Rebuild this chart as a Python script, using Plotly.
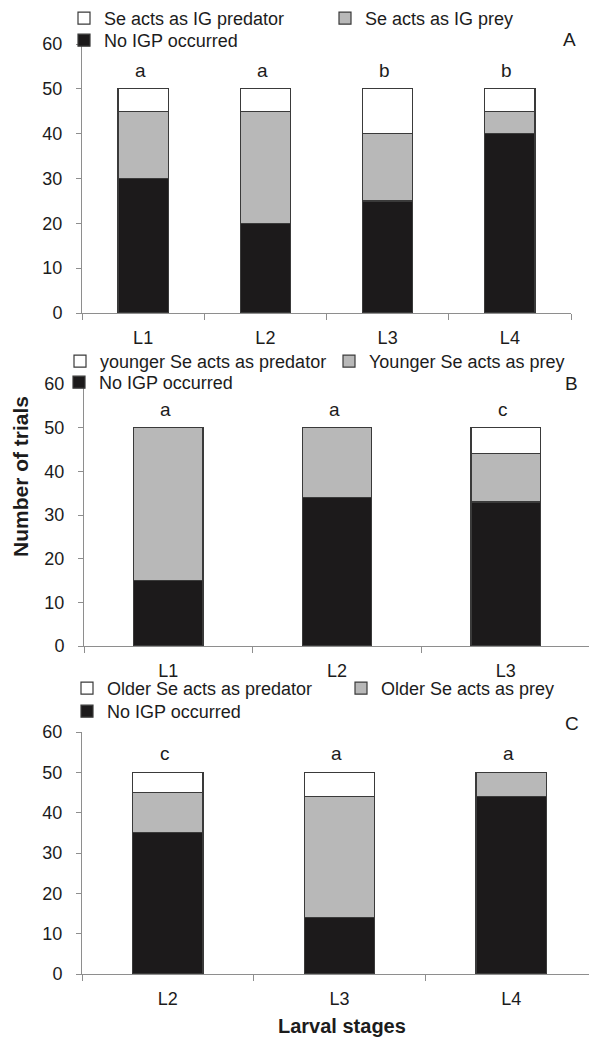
import plotly.graph_objects as go

# ---------------- data ----------------
stages_a = ["L1", "L2", "L3", "L4"]
no_igp_a = [30, 20, 25, 40]
prey_a = [15, 25, 15, 5]
pred_a = [5, 5, 10, 5]
letters_a = ["a", "a", "b", "b"]

stages_b = ["L1", "L2", "L3"]
no_igp_b = [15, 34, 33]
prey_b = [35, 16, 11]
pred_b = [0, 0, 6]
letters_b = ["a", "a", "c"]

stages_c = ["L2", "L3", "L4"]
no_igp_c = [35, 14, 44]
prey_c = [10, 30, 6]
pred_c = [5, 6, 0]
letters_c = ["c", "a", "a"]

names_pred = ["Se acts as IG predator", "younger Se acts as predator", "Older Se acts as predator"]
names_prey = ["Se acts as IG prey", "Younger Se acts as prey", "Older Se acts as prey"]
name_none = "No IGP occurred"
panel_labels = ["A", "B", "C"]
y_ticks = [0, 10, 20, 30, 40, 50, 60]

# ---------------- style ----------------
FONT = "Liberation Sans, Arial, sans-serif"
TXT = "#1c1c1c"
BLACK = "#1c1a1b"
GRAY = "#b8b8b8"
WHITE = "#ffffff"
EDGE = "#3a3a3a"
AXIS = "#8e8e8e"
PAGE_OFF = 8            # page body margin
W, H = 597 - PAGE_OFF, 1038 - PAGE_OFF

def px(x):
    return (x - PAGE_OFF) / W

def py(y):
    return 1 - (y - PAGE_OFF) / H

panels = [
    dict(cats=stages_a, none=no_igp_a, prey=prey_a, pred=pred_a, letters=letters_a,
         xdom=[px(82), px(571)], ydom=[py(313), py(44)],
         leg_x=px(64), leg_x2=px(64), leg_y1=py(0), leg_y2=py(22), ew=216,
         lab=(px(569), py(40))),
    dict(cats=stages_b, none=no_igp_b, prey=prey_b, pred=pred_b, letters=letters_b,
         xdom=[px(84), px(590)], ydom=[py(646), py(384)],
         leg_x=px(60), leg_x2=px(59), leg_y1=py(343), leg_y2=py(364), ew=224,
         lab=(px(571), py(383))),
    dict(cats=stages_c, none=no_igp_c, prey=prey_c, pred=pred_c, letters=letters_c,
         xdom=[px(82), 1.0], ydom=[py(974), py(732)],
         leg_x=px(67), leg_x2=px(67), leg_y1=py(670), leg_y2=py(693), ew=229,
         lab=(px(572), py(723))),
]

fig = go.Figure()
layout = dict(
    width=W, height=H,
    margin=dict(l=0, r=0, t=0, b=0, autoexpand=False),
    paper_bgcolor="white", plot_bgcolor="white",
    barmode="stack",
    font=dict(family=FONT, size=18, color=TXT),
    annotations=[],
)

for i, p in enumerate(panels):
    n = i + 1
    xa = "x" if n == 1 else f"x{n}"
    ya = "y" if n == 1 else f"y{n}"
    leg1 = "legend" if i == 0 else f"legend{2 * i + 1}"
    leg2 = f"legend{2 * i + 2}"
    common = dict(x=p["cats"], xaxis=xa, yaxis=ya, width=0.41)
    fig.add_trace(go.Bar(y=p["none"], name=name_none, legend=leg2,
                         marker=dict(color=BLACK, line=dict(color=EDGE, width=1.2)), **common))
    fig.add_trace(go.Bar(y=p["prey"], name=names_prey[i], legend=leg1,
                         marker=dict(color=GRAY, line=dict(color=EDGE, width=1.2)), **common))
    fig.add_trace(go.Bar(y=p["pred"], name=names_pred[i], legend=leg1,
                         marker=dict(color=WHITE, line=dict(color=EDGE, width=1.2)), **common))

    xkey = "xaxis" if n == 1 else f"xaxis{n}"
    ykey = "yaxis" if n == 1 else f"yaxis{n}"
    layout[xkey] = dict(domain=p["xdom"], anchor=ya, type="category",
                        range=[-0.5, len(p["cats"]) - 0.5],
                        showline=True, linecolor=AXIS, linewidth=1,
                        ticks="outside", tickson="boundaries", ticklen=6, tickcolor=AXIS,
                        ticklabelstandoff=8,
                        showgrid=False, zeroline=False, fixedrange=True,
                        tickfont=dict(size=18, color=TXT))
    layout[ykey] = dict(domain=p["ydom"], anchor=xa, range=[0, 60],
                        tickvals=y_ticks, showline=True, linecolor=AXIS, linewidth=1,
                        ticks="outside", ticklen=5, tickcolor=AXIS,
                        ticklabelstandoff=10,
                        showgrid=False, zeroline=False, fixedrange=True,
                        tickfont=dict(size=18, color=TXT))
    layout[leg1] = dict(x=p["leg_x"], y=p["leg_y1"], xanchor="left", yanchor="top",
                        orientation="h", traceorder="reversed", bgcolor="rgba(0,0,0,0)",
                        entrywidth=p["ew"], entrywidthmode="pixels",
                        font=dict(size=18, color=TXT))
    layout[leg2] = dict(x=p["leg_x2"], y=p["leg_y2"], xanchor="left", yanchor="top",
                        orientation="h", bgcolor="rgba(0,0,0,0)",
                        font=dict(size=18, color=TXT))

    # significance letters above each bar
    for c, a, b, d, let in zip(p["cats"], p["none"], p["prey"], p["pred"], p["letters"]):
        layout["annotations"].append(dict(
            x=c, y=a + b + d, xref=xa, yref=ya, text=let, showarrow=False,
            yanchor="bottom", yshift=6, xshift=-3, font=dict(size=19, color=TXT)))
    # panel label
    layout["annotations"].append(dict(
        x=p["lab"][0], y=p["lab"][1], xref="paper", yref="paper", text=panel_labels[i],
        showarrow=False, xanchor="center", yanchor="middle", font=dict(size=19, color=TXT)))

# axis titles
layout["annotations"].append(dict(
    x=px(20), y=py(477), xref="paper", yref="paper", text="<b>Number of trials</b>",
    showarrow=False, textangle=-90, xanchor="center", yanchor="middle",
    font=dict(size=21, color=TXT)))
layout["annotations"].append(dict(
    x=px(342), y=py(1026), xref="paper", yref="paper", text="<b>Larval stages</b>",
    showarrow=False, xanchor="center", yanchor="middle",
    font=dict(size=20, color=TXT)))

fig.update_layout(**layout)
fig.write_html("out.html", config={"displayModeBar": False})
